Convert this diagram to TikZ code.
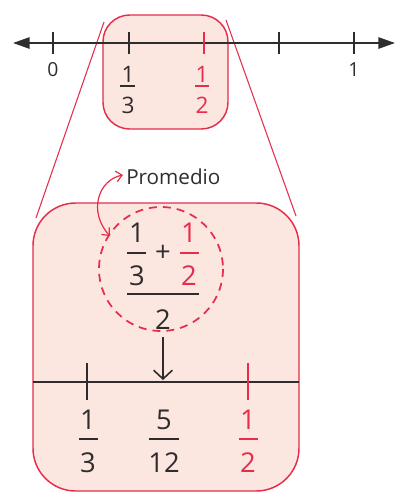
\documentclass[tikz,border=0pt]{standalone}
\usepackage{fontspec}
\setmainfont{Open Sans}
\usetikzlibrary{arrows.meta}
\definecolor{ink}{HTML}{2E2C2D}
\definecolor{accent}{HTML}{E62D4B}
\definecolor{blush}{HTML}{FCE6E0}
\begin{document}
\begin{tikzpicture}[x=0.75pt,y=-0.75pt,
  zoombox/.style={draw=accent, fill=blush, line width=1.1pt},
  guide/.style={draw=accent, line width=0.8pt},
  smalllbl/.style={inner sep=0pt, text=ink, font=\fontsize{14.5}{16}\selectfont},
  midlbl/.style={inner sep=0pt, text=ink, font=\fontsize{17}{19}\selectfont},
  biglbl/.style={inner sep=0pt, text=ink, font=\fontsize{20.5}{22}\selectfont},
  thinbar/.style={draw=ink, line width=0.9pt},
  thickbar/.style={draw=ink, line width=2pt},
  axis/.style={draw=ink, line width=1.3pt},
  boldaxis/.style={draw=ink, line width=2pt},
]
\useasboundingbox (0,0) rectangle (406,501);

% magnifier guides
\coordinate (gl1) at (104,22);
\coordinate (gl2) at (36,218);
\coordinate (gr1) at (226,20);
\coordinate (gr2) at (296,216);
\draw[guide] (gl1) -- (gl2);
\draw[guide] (gr1) -- (gr2);

% zoom boxes
\draw[zoombox, rounded corners=20] (103,15) rectangle (228,129);
\draw[zoombox, rounded corners=32] (33,203) rectangle (299,491);

% top number line
\coordinate (axL) at (13,43);
\coordinate (axR) at (395,43);
\draw[axis, {Triangle[length=12.5pt,width=8.5pt]}-{Triangle[length=12.5pt,width=8.5pt]}] (axL) -- (axR);
\foreach \x in {53,129,279,354}
  \draw[axis] (\x,32) -- (\x,54);
\draw[draw=accent, line width=1.3pt] (204,32) -- (204,54);

\node[smalllbl] (zero) at (53,70) {0};
\node[smalllbl] (one) at (354,70) {1};
\node[midlbl] (tn1) at (128,74) {1};
\draw[thinbar] (120,86) -- (135,86);
\node[midlbl] (td1) at (128,105) {3};
\node[midlbl, text=accent] (tn2) at (202,74) {1};
\draw[draw=accent, line width=0.9pt] (195,86) -- (209,86);
\node[midlbl, text=accent] (td2) at (202,105) {2};

% mean of the two fractions
\draw[draw=accent, line width=1.3pt, dash pattern=on 6pt off 4.5pt] (161,269) circle (62);
\node[biglbl] (cn1) at (137,233) {1};
\draw[thickbar] (127,253) -- (146,253);
\node[biglbl] (cd1) at (137,276) {3};
\node[biglbl] (plus) at (163,253) {+};
\node[biglbl, text=accent] (cn2) at (189,233) {1};
\draw[draw=accent, line width=2pt] (180,253) -- (199,253);
\node[biglbl, text=accent] (cd2) at (189,276) {2};
\draw[thickbar] (127,294) -- (199,294);
\node[biglbl] (two) at (163,320) {2};

% label with curved pointer
\node[inner sep=0pt, text=ink, font=\fontsize{15.5}{17}\selectfont, anchor=west] (prom) at (126,177) {Promedio};
\coordinate (pt1) at (123,175);
\coordinate (pt2) at (110,236);
\draw[draw=accent, line width=0.9pt, {Straight Barb[length=4.5pt,width=8pt]}-{Straight Barb[length=4.5pt,width=8pt]}]
  (pt1) .. controls (98,180) and (88,212) .. (pt2);

% bottom number line
\coordinate (bl) at (33,382);
\coordinate (br) at (299,382);
\draw[boldaxis] (bl) -- (br);
\draw[boldaxis] (87,363) -- (87,400);
\draw[draw=accent, line width=2pt] (248,363) -- (248,400);

\coordinate (dtop) at (163,337);
\coordinate (dbot) at (163,380);
\draw[draw=ink, line width=1.2pt, -{Straight Barb[length=6.5pt,width=14pt]}] (dtop) -- (dbot);

\node[biglbl] (bn1) at (88,420) {1};
\draw[thickbar] (79,439) -- (98,439);
\node[biglbl] (bd1) at (88,463) {3};
\node[biglbl] (bn2) at (164,420) {5};
\draw[thickbar] (149,439) -- (179,439);
\node[biglbl] (bd2) at (164,463) {12};
\node[biglbl, text=accent] (bn3) at (248,420) {1};
\draw[draw=accent, line width=2pt] (239,439) -- (258,439);
\node[biglbl, text=accent] (bd3) at (248,463) {2};
\end{tikzpicture}
\end{document}
